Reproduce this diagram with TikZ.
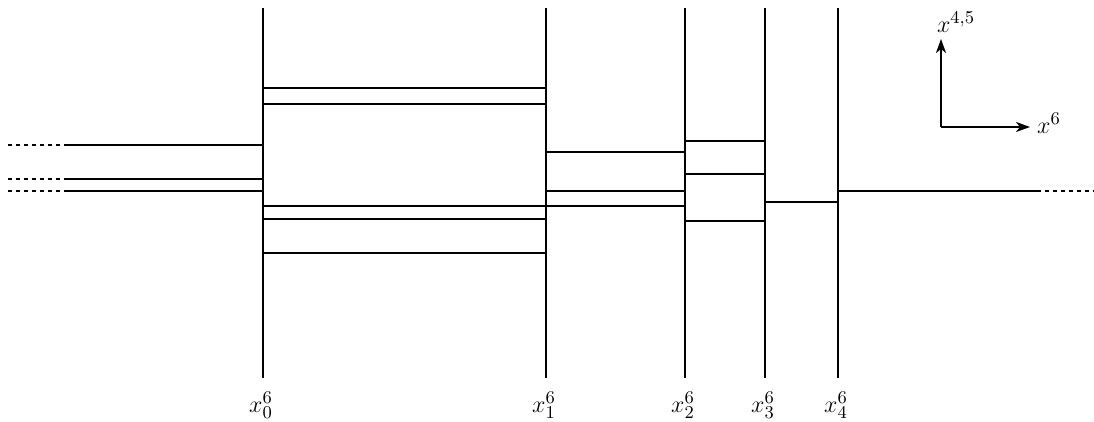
\documentclass[tikz,border=0pt]{standalone}
\usetikzlibrary{arrows.meta}
\begin{document}
\begin{tikzpicture}[x=0.5pt,y=-0.5pt,
  brane/.style={line width=1pt},
  extbrane/.style={line width=1pt,dash pattern=on 2pt off 2pt},
  axis/.style={line width=1pt,-{Stealth[length=7pt,width=5pt,inset=2pt]}},
  lbl/.style={font=\fontsize{13}{15}\selectfont,inner sep=0pt}]
\useasboundingbox (0,0) rectangle (1094,422);
% vertical branes
\foreach \n/\x in {0/263,1/546,2/685,3/765,4/838}{
  \coordinate (t\n) at (\x,8);
  \coordinate (b\n) at (\x,378);
  \draw[brane] (t\n) -- (b\n);
  \node[lbl] (l\n) at (\x-2,405) {$x^6_{\n}$};
}
% left semi-infinite
\foreach \y in {145,179,191}{
  \coordinate (le\y) at (8,\y);
  \coordinate (lm\y) at (65,\y);
  \draw[extbrane] (le\y) -- (lm\y);
  \draw[brane] (lm\y) -- (263,\y);
}
% x0 - x1
\foreach \y in {88,104,206,219,253}{\draw[brane] (263,\y) -- (546,\y);}
% x1 - x2
\foreach \y in {152,191,206}{\draw[brane] (546,\y) -- (685,\y);}
% x2 - x3
\foreach \y in {141,174,221}{\draw[brane] (685,\y) -- (765,\y);}
% x3 - x4
\draw[brane] (765,202) -- (838,202);
% right semi-infinite
\coordinate (rm) at (1037,191);
\coordinate (re) at (1094,191);
\draw[brane] (838,191) -- (rm);
\draw[extbrane] (rm) -- (re);
% axes
\coordinate (o) at (941,127);
\coordinate (up) at (941,39);
\coordinate (rt) at (1030,127);
\draw[axis] (o) -- (up);
\draw[axis] (o) -- (rt);
\node[lbl] (ly) at (956,22) {$x^{4,5}$};
\node[lbl] (lx) at (1049,123) {$x^6$};
\end{tikzpicture}
\end{document}
